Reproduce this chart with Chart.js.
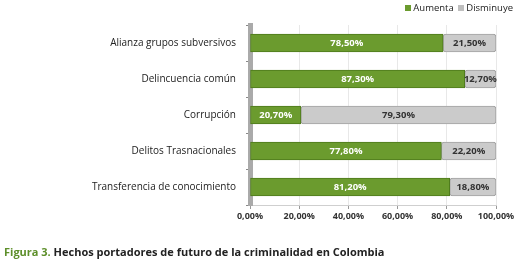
<!DOCTYPE html>
<html><head><meta charset="utf-8">
<script src="https://cdn.jsdelivr.net/npm/chart.js@4/dist/chart.umd.min.js"></script>
<style>
html,body{margin:0;padding:0;background:#fff;}
#wrap{position:relative;width:521px;height:267px;}
#legend{position:absolute;top:1px;right:8px;font:9.5px "Open Sans",sans-serif;color:#222;white-space:nowrap;}
#legend span.sw{display:inline-block;width:6px;height:6px;margin-right:2px;vertical-align:0px;}
#caption{position:absolute;top:244px;left:4px;font:bold 11px "Open Sans",sans-serif;color:#222;white-space:nowrap;}
#caption .g{color:#5d8f2a;}
</style></head>
<body>
<div id="wrap">
<canvas id="c" width="521" height="267"></canvas>
<div id="legend"><span class="sw" style="background:#6b9b2e"></span>Aumenta <span class="sw" style="background:#bfbfbf;margin-left:2px"></span>Disminuye</div>
<div id="caption"><span class="g">Figura 3.</span> Hechos portadores de futuro de la criminalidad en Colombia</div>
</div>
<script>
const categories = ["Alianza grupos subversivos","Delincuencia común","Corrupción","Delitos Trasnacionales","Transferencia de conocimiento"];
const aumenta = [78.5, 87.3, 20.7, 77.8, 81.2];
const disminuye = [21.5, 12.7, 79.3, 22.2, 18.8];
const seriesNames = ["Aumenta","Disminuye"];
const xTicks = [0,20,40,60,80,100];

const fmt = v => v.toFixed(2).replace('.', ',') + '%';

const labelPlugin = {
  id:'barLabels',
  afterDatasetsDraw(chart){
    const ctx = chart.ctx;
    ctx.save();
    ctx.textAlign='center'; ctx.textBaseline='middle';
    chart.data.datasets.forEach((ds,di)=>{
      const meta = chart.getDatasetMeta(di);
      meta.data.forEach((bar,i)=>{
        const cx = (bar.x + bar.base)/2;
        ctx.font = 'bold 9.5px "Open Sans",sans-serif';
        ctx.fillStyle = di===0 ? '#ffffff' : '#333333';
        ctx.fillText(fmt(ds.data[i]), cx, bar.y);
      });
    });
    ctx.restore();
  }
};

new Chart(document.getElementById('c'),{
  type:'bar',
  data:{
    labels:categories,
    datasets:[
      {label:seriesNames[0],data:aumenta,backgroundColor:'#6b9b2e',borderColor:'#4e7a1d',borderWidth:1,borderRadius:3,borderSkipped:false,barThickness:18},
      {label:seriesNames[1],data:disminuye,backgroundColor:'#cbcbcb',borderColor:'#a3a3a3',borderWidth:1,borderRadius:3,borderSkipped:false,barThickness:18}
    ]
  },
  options:{
    indexAxis:'y',
    responsive:false,
    animation:false,
    layout:{padding:{top:25,right:25,left:0,bottom:0}},
    plugins:{legend:{display:false},tooltip:{enabled:false}},
    scales:{
      x:{
        stacked:true,min:0,max:100,
        afterBuildTicks(s){ s.ticks = xTicks.map(v=>({value:v})); },
        afterFit(s){ s.height = 62; },
        grid:{color:'#e8e8e8',tickLength:4,tickColor:'#999'},
        border:{color:'#cfcfcf',width:1},
        ticks:{callback:v=>v.toFixed(2).replace('.',',')+'%',font:{family:'"Open Sans",sans-serif',size:9,weight:'bold'},color:'#333',padding:2,maxRotation:0}
      },
      y:{
        stacked:true,
        afterFit(s){ s.width = 250; },
        grid:{drawOnChartArea:false,offset:true,tickLength:4,tickColor:'#888'},
        border:{color:'#aaaaaa',width:5},
        ticks:{font:{family:'"Open Sans",sans-serif',size:10},color:'#222',padding:10}
      }
    }
  },
  plugins:[labelPlugin]
});
</script>
</body></html>
